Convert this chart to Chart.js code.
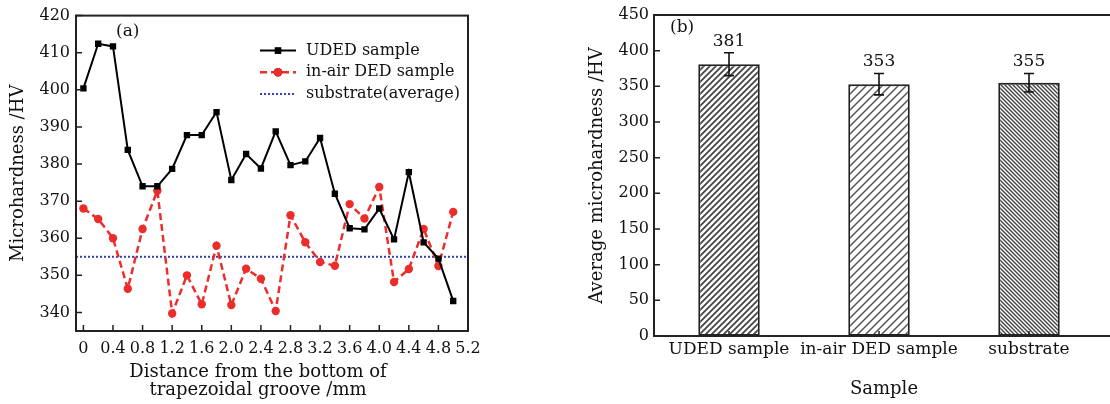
<!DOCTYPE html>
<html>
<head>
<meta charset="utf-8">
<title>Microhardness</title>
<script src="https://cdn.jsdelivr.net/npm/chart.js@4/dist/chart.umd.min.js"></script>
<style>
    html, body { margin: 0; padding: 0; background: #fff; overflow: hidden; }
    #wrap { position: relative; width: 1110px; height: 404px; }
    .panel { position: absolute; top: 0; height: 404px; }
    #panel-a { left: 0; width: 560px; }
    #panel-b { left: 560px; width: 550px; }
</style>
</head>
<body>
<div id="wrap">
    <div class="panel" id="panel-a"><canvas id="hardness-profile" width="560" height="404"></canvas></div>
    <div class="panel" id="panel-b"><canvas id="avg-hardness" width="550" height="404"></canvas></div>
</div>
<script>
// (a) hardness along the deposit, HV
const distance = [0, 0.2, 0.4, 0.6, 0.8, 1.0, 1.2, 1.4, 1.6, 1.8, 2.0, 2.2, 2.4,
    2.6, 2.8, 3.0, 3.2, 3.4, 3.6, 3.8, 4.0, 4.2, 4.4, 4.6, 4.8, 5.0];
const udedHardness = [400.4, 412.4, 411.7, 383.8, 374, 374, 378.7, 387.8, 387.8, 394, 375.7, 382.7, 378.8,
    388.8, 379.7, 380.7, 387, 372, 362.7, 362.4, 368, 359.7, 377.8, 358.9, 354.5, 343.1];
const inAirHardness = [368, 365.2, 360, 346.4, 362.5, 372.8, 339.7, 350, 342.2, 358, 342, 351.8, 349.1,
    340.4, 366.2, 358.9, 353.6, 352.6, 369.2, 365.3, 373.8, 348.2, 351.7, 362.5, 352.5, 367.1];
const substrateAvg = 355;
const xRange = [-0.1, 5.2];
const xTickValues = [0, 0.4, 0.8, 1.2, 1.6, 2.0, 2.4, 2.8, 3.2, 3.6, 4.0, 4.4, 4.8, 5.2];
const xTickLabels = ['0', '0.4', '0.8', '1.2', '1.6', '2.0', '2.4', '2.8', '3.2', '3.6', '4.0', '4.4', '4.8', '5.2'];
const yRangeA = [335, 420];
const yTicksA = [340, 350, 360, 370, 380, 390, 400, 410, 420];

// (b) average hardness per sample
const samples = ['UDED sample', 'in-air DED sample', 'substrate'];
const avgHardness = [381, 353, 355];
const avgError = [16, 15, 13];
const yTicksB = [0, 50, 100, 150, 200, 250, 300, 350, 400, 450];

const SERIF = "'DejaVu Serif', 'Liberation Serif', serif";

document.addEventListener('DOMContentLoaded', () => {
    Chart.defaults.font.family = SERIF;
    Chart.defaults.color = '#111';
    Chart.defaults.animation = false;

    // ------------------------------------------------------------------------
    // Left panel: line profiles
    // ------------------------------------------------------------------------
    const datasetsA = [
        {
            label: 'UDED sample',
            data: distance.map((x, i) => ({ x, y: udedHardness[i] })),
            borderColor: '#000',
            backgroundColor: '#000',
            borderWidth: 2,
            pointStyle: 'rect',
            pointRadius: 4.5,
            pointBorderWidth: 0
        },
        {
            label: 'in-air DED sample',
            data: distance.map((x, i) => ({ x, y: inAirHardness[i] })),
            borderColor: '#ec2d2a',
            backgroundColor: '#ec2d2a',
            borderWidth: 2.5,
            borderDash: [7, 4],
            pointStyle: 'circle',
            pointRadius: 4.2,
            pointBorderWidth: 0
        },
        {
            label: 'substrate(average)',
            data: xRange.map(x => ({ x, y: substrateAvg })),
            borderColor: '#3540b5',
            borderWidth: 2,
            borderDash: [2, 2],
            pointRadius: 0
        }
    ];

    const profileDecor = {
        id: 'profileDecor',
        afterDraw(chart) {
            const { ctx, chartArea: a, scales: { x, y } } = chart;
            ctx.save();

            // frame + inward ticks
            ctx.strokeStyle = '#222';
            ctx.lineWidth = 2;
            ctx.strokeRect(a.left, a.top, a.right - a.left, a.bottom - a.top);
            ctx.lineWidth = 1.5;
            ctx.beginPath();
            x.ticks.forEach(t => {
                const px = x.getPixelForValue(t.value);
                ctx.moveTo(px, a.bottom);
                ctx.lineTo(px, a.bottom - 6);
            });
            y.ticks.forEach(t => {
                const py = y.getPixelForValue(t.value);
                ctx.moveTo(a.left, py);
                ctx.lineTo(a.left + 6, py);
            });
            ctx.stroke();

            // legend in the upper right
            ctx.font = '16px ' + SERIF;
            ctx.textBaseline = 'middle';
            ctx.textAlign = 'left';
            const lx = a.right - 208;
            chart.data.datasets.forEach((ds, i) => {
                const ly = a.top + 35 + i * 21.7;
                ctx.strokeStyle = ds.borderColor;
                ctx.lineWidth = ds.borderWidth;
                ctx.setLineDash(ds.borderDash || []);
                ctx.beginPath();
                ctx.moveTo(lx, ly);
                ctx.lineTo(lx + 36, ly);
                ctx.stroke();
                ctx.setLineDash([]);
                if (ds.pointRadius) {
                    Chart.helpers.drawPoint(ctx, {
                        pointStyle: ds.pointStyle,
                        radius: ds.pointRadius,
                        borderWidth: 0
                    }, lx + 18, ly);
                    ctx.fillStyle = ds.backgroundColor;
                    ctx.fill();
                }
                ctx.fillStyle = '#111';
                ctx.fillText(ds.label, lx + 46, ly);
            });

            // panel tag
            ctx.font = '17px ' + SERIF;
            ctx.fillText('(a)', a.left + 40, a.top + 16);

            // axis titles
            ctx.font = '18px ' + SERIF;
            ctx.textAlign = 'center';
            const cx = (a.left + a.right) / 2 - 14;
            ctx.fillText('Distance from the bottom of', cx, 372);
            ctx.fillText('trapezoidal groove /mm', cx, 390);
            ctx.translate(18, (a.top + a.bottom) / 2);
            ctx.rotate(-Math.PI / 2);
            ctx.fillText('Microhardness /HV', 0, 0);
            ctx.restore();
        }
    };

    new Chart(document.getElementById('hardness-profile'), {
        type: 'line',
        data: { datasets: datasetsA },
        options: {
            responsive: false,
            layout: { padding: { top: 15, right: 92, left: 0, bottom: 0 } },
            plugins: { legend: { display: false }, tooltip: { enabled: false } },
            elements: { line: { tension: 0 } },
            scales: {
                x: {
                    type: 'linear',
                    min: xRange[0],
                    max: xRange[1],
                    grid: { display: false, drawTicks: false },
                    border: { display: false },
                    afterBuildTicks: scale => { scale.ticks = xTickValues.map(value => ({ value })); },
                    afterFit: scale => { scale.height = 73; },
                    ticks: {
                        padding: 8,
                        maxRotation: 0,
                        autoSkip: false,
                        font: { size: 16 },
                        callback: (value, index) => xTickLabels[index]
                    }
                },
                y: {
                    min: yRangeA[0],
                    max: yRangeA[1],
                    grid: { display: false, drawTicks: false },
                    border: { display: false },
                    afterBuildTicks: scale => { scale.ticks = yTicksA.map(value => ({ value })); },
                    afterFit: scale => { scale.width = 76; },
                    ticks: { padding: 6, font: { size: 16 } }
                }
            }
        },
        plugins: [profileDecor]
    });

    // ------------------------------------------------------------------------
    // Right panel: hatched bars with error bars
    // ------------------------------------------------------------------------
    const ctxB = document.getElementById('avg-hardness').getContext('2d');

    function hatch(step, forward, color, width) {
        const tile = document.createElement('canvas');
        tile.width = tile.height = step;
        const g = tile.getContext('2d');
        g.fillStyle = '#fff';
        g.fillRect(0, 0, step, step);
        g.strokeStyle = color;
        g.lineWidth = width;
        g.beginPath();
        if (forward) {
            g.moveTo(-1, step + 1); g.lineTo(step + 1, -1);
            g.moveTo(-1, 1); g.lineTo(1, -1);
            g.moveTo(step - 1, step + 1); g.lineTo(step + 1, step - 1);
        } else {
            g.moveTo(-1, -1); g.lineTo(step + 1, step + 1);
            g.moveTo(step - 1, -1); g.lineTo(step + 1, 1);
            g.moveTo(-1, step - 1); g.lineTo(1, step + 1);
        }
        g.stroke();
        return ctxB.createPattern(tile, 'repeat');
    }

    const barFills = [
        hatch(6, true, '#444', 1.8),
        hatch(8, true, '#555', 1.5),
        hatch(4, false, '#444', 1.4)
    ];

    const barDecor = {
        id: 'barDecor',
        afterDraw(chart) {
            const { ctx, chartArea: a, scales: { x, y } } = chart;
            const w = chart.width;
            ctx.save();

            // open frame: top, left, bottom
            ctx.strokeStyle = '#222';
            ctx.lineWidth = 2;
            ctx.beginPath();
            ctx.moveTo(w, a.top);
            ctx.lineTo(a.left, a.top);
            ctx.lineTo(a.left, a.bottom);
            ctx.lineTo(w, a.bottom);
            ctx.stroke();

            ctx.lineWidth = 1.5;
            ctx.beginPath();
            y.ticks.forEach(t => {
                const py = y.getPixelForValue(t.value);
                ctx.moveTo(a.left, py);
                ctx.lineTo(a.left + 6, py);
            });
            x.ticks.forEach((t, i) => {
                const px = x.getPixelForTick(i);
                ctx.moveTo(px, a.bottom);
                ctx.lineTo(px, a.bottom - 5);
            });
            ctx.stroke();

            // error bars and value labels
            const meta = chart.getDatasetMeta(0);
            ctx.font = '17px ' + SERIF;
            ctx.textAlign = 'center';
            ctx.textBaseline = 'bottom';
            ctx.fillStyle = '#111';
            meta.data.forEach((bar, i) => {
                const v = avgHardness[i];
                const hi = y.getPixelForValue(v + avgError[i]);
                const lo = y.getPixelForValue(v - avgError[i]);
                ctx.strokeStyle = '#111';
                ctx.lineWidth = 1.6;
                ctx.beginPath();
                ctx.moveTo(bar.x, hi); ctx.lineTo(bar.x, lo);
                ctx.moveTo(bar.x - 5, hi); ctx.lineTo(bar.x + 5, hi);
                ctx.moveTo(bar.x - 5, lo); ctx.lineTo(bar.x + 5, lo);
                ctx.stroke();
                ctx.fillText(String(v), bar.x, hi - 3);
            });

            // panel tag and axis titles
            ctx.textAlign = 'left';
            ctx.textBaseline = 'middle';
            ctx.font = '17px ' + SERIF;
            ctx.fillText('(b)', a.left + 16, a.top + 13);

            ctx.font = '18px ' + SERIF;
            ctx.textAlign = 'center';
            ctx.fillText('Sample', (a.left + a.right) / 2 + 5, 389);
            ctx.translate(37, (a.top + a.bottom) / 2);
            ctx.rotate(-Math.PI / 2);
            ctx.fillText('Average microhardness /HV', 0, 0);
            ctx.restore();
        }
    };

    new Chart(ctxB, {
        type: 'bar',
        data: {
            labels: samples,
            datasets: [{
                data: avgHardness,
                backgroundColor: barFills,
                borderColor: '#222',
                borderWidth: 2,
                borderSkipped: false,
                barPercentage: 0.41,
                categoryPercentage: 1
            }]
        },
        options: {
            responsive: false,
            layout: { padding: { top: 15, right: 6, left: 0, bottom: 0 } },
            plugins: { legend: { display: false }, tooltip: { enabled: false } },
            scales: {
                x: {
                    grid: { display: false, drawTicks: false },
                    border: { display: false },
                    afterFit: scale => { scale.height = 68; },
                    ticks: { padding: 3, maxRotation: 0, autoSkip: false, font: { size: 17 } }
                },
                y: {
                    min: 0,
                    max: 450,
                    grid: { display: false, drawTicks: false },
                    border: { display: false },
                    afterBuildTicks: scale => { scale.ticks = yTicksB.map(value => ({ value })); },
                    afterFit: scale => { scale.width = 94; },
                    ticks: { padding: 5, font: { size: 16 } }
                }
            }
        },
        plugins: [barDecor]
    });
});
</script>
</body>
</html>
